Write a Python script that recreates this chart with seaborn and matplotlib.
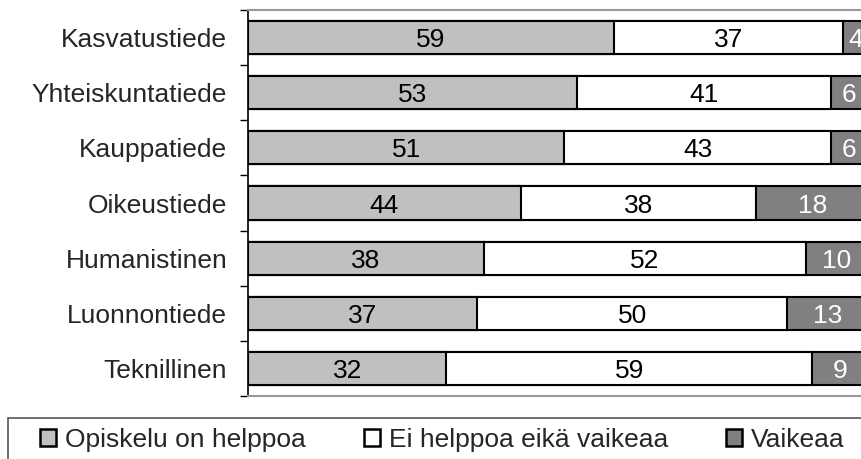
import pandas as pd
import seaborn as sns
import matplotlib.pyplot as plt
from matplotlib.patches import Patch, Rectangle

# Data
categories = ['Kasvatustiede', 'Yhteiskuntatiede', 'Kauppatiede', 'Oikeustiede',
              'Humanistinen', 'Luonnontiede', 'Teknillinen']
helppoa = [59, 53, 51, 44, 38, 37, 32]
neutraali = [37, 41, 43, 38, 52, 50, 59]
vaikeaa = [4, 6, 6, 18, 10, 13, 9]
series_names = ['Opiskelu on helppoa', 'Ei helppoa eikä vaikeaa', 'Vaikeaa']
colors = ['#C0C0C0', '#FFFFFF', '#808080']

df = pd.DataFrame({
    'ala': categories,
    'helppoa': helppoa,
    'neutraali': neutraali,
    'vaikeaa': vaikeaa,
})
df['c1'] = df['helppoa']
df['c2'] = df['helppoa'] + df['neutraali']
df['c3'] = df['c2'] + df['vaikeaa']

sns.set_style('white')
plt.rcParams['font.family'] = ['Liberation Sans', 'DejaVu Sans']
fs = 19

fig = plt.figure(figsize=(8.62, 4.59), dpi=100)
ax = fig.add_axes([248 / 862, 1 - 396 / 459, 620 / 862, 386 / 459])

# stacked bars: draw cumulative totals back to front
for col, color in zip(['c3', 'c2', 'c1'], colors[::-1]):
    sns.barplot(data=df, y='ala', x=col, orient='h', color=color,
                edgecolor='black', linewidth=1.5, width=0.6,
                saturation=1, ax=ax)

# value labels
for i in range(len(categories)):
    starts = [0, helppoa[i], helppoa[i] + neutraali[i]]
    vals = [helppoa[i], neutraali[i], vaikeaa[i]]
    for k in range(3):
        ax.text(starts[k] + vals[k] / 2, i, str(vals[k]), ha='center',
                va='center_baseline', fontsize=fs,
                color='white' if k == 2 else 'black', clip_on=False)

ax.set_xlim(0, 100)
ax.set_ylim(6.5, -0.5)
ax.set_xlabel('')
ax.set_ylabel('')
ax.set_xticks([])

# ticks at category boundaries, labels in between
ax.set_yticks([i - 0.5 for i in range(len(categories) + 1)])
ax.set_yticklabels([])
ax.set_yticks(range(len(categories)), minor=True)
ax.set_yticklabels(categories, minor=True, fontsize=fs)
ax.tick_params(axis='y', which='major', left=True, length=6, width=1, color='black')
ax.tick_params(axis='y', which='minor', left=False, length=0, pad=15)

ax.spines['left'].set_color('black')
ax.spines['left'].set_linewidth(1.2)
ax.spines['top'].set_color('#999999')
ax.spines['top'].set_linewidth(1.5)
ax.spines['bottom'].set_color('#999999')
ax.spines['bottom'].set_linewidth(1.5)
ax.spines['right'].set_visible(False)

# legend frame
fig.patches.append(Rectangle((8 / 862, -0.05), 1.0, 1 - 418 / 459 + 0.05,
                             transform=fig.transFigure, facecolor='none',
                             edgecolor='#555555', linewidth=1.2))

handles = [Patch(facecolor=c, edgecolor='black', linewidth=1.8) for c in colors]
fig.legend(handles, series_names, loc='center left',
           bbox_to_anchor=(40 / 862, 1 - 440 / 459), ncol=3, frameon=False,
           fontsize=fs, borderpad=0, borderaxespad=0, handlelength=0.6,
           handleheight=0.6, handletextpad=0.35, columnspacing=2.2)

plt.savefig('out.png', dpi=100)
